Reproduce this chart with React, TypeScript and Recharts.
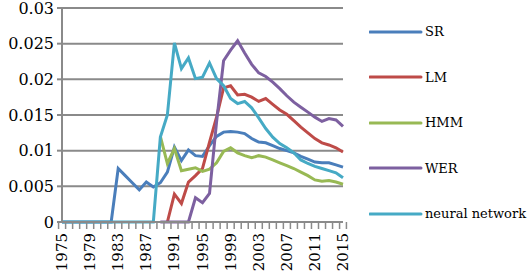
import { CartesianGrid, Legend, Line, LineChart, XAxis, YAxis } from "recharts";

const YEARS = Array.from({ length: 41 }, (_, i) => 1975 + i);

// values per year, null = no data for that year
const SR = [
  0, 0, 0, 0, 0, 0, 0, 0, 0.0075, 0.0065, 0.0055, 0.0045, 0.0056, 0.0049, 0.0055, 0.007,
  0.0105, 0.0086, 0.0101, 0.0093, 0.0092, 0.0107, 0.012, 0.0126, 0.0127, 0.0126, 0.0124,
  0.0117, 0.0112, 0.0111, 0.0107, 0.0103, 0.01, 0.0097, 0.0092, 0.0088, 0.0084, 0.0083,
  0.0083, 0.008, 0.0077,
];
const LM = [
  null, null, null, null, null, null, null, null, null, null, null, null, null, null, null, 0,
  0.0039, 0.0026, 0.0056, 0.0065, 0.0075, 0.0112, 0.0147, 0.0188, 0.0191, 0.0178, 0.0179,
  0.0175, 0.0169, 0.0173, 0.0165, 0.0157, 0.0151, 0.0142, 0.0133, 0.0125, 0.0117, 0.0111,
  0.0108, 0.0104, 0.0098,
];
const HMM = [
  null, null, null, null, null, null, null, null, null, null, null, null, null, null, 0.012,
  0.0082, 0.0103, 0.0072, 0.0074, 0.0076, 0.0071, 0.0074, 0.0083, 0.0099, 0.0104, 0.0097,
  0.0093, 0.009, 0.0093, 0.0091, 0.0087, 0.0083, 0.0079, 0.0075, 0.007, 0.0065, 0.0059,
  0.0057, 0.0058, 0.0056, 0.0053,
];
const WER = [
  null, null, null, null, null, null, null, null, null, null, null, null, null, null, 0, 0, 0,
  0, 0, 0.0034, 0.0027, 0.004, 0.014, 0.0226, 0.0241, 0.0254, 0.0237, 0.0221, 0.0209, 0.0204,
  0.0196, 0.0187, 0.0177, 0.0168, 0.0161, 0.0154, 0.0147, 0.0141, 0.0145, 0.0143, 0.0134,
];
const NEURAL = [
  0, 0, 0, 0, 0, 0, 0, 0, 0, 0, 0, 0, 0, 0, 0.0119, 0.015, 0.0251, 0.0215, 0.023, 0.0201,
  0.0203, 0.0223, 0.0201, 0.0191, 0.0173, 0.0166, 0.0169, 0.016, 0.0146, 0.0131, 0.0119,
  0.011, 0.0104, 0.0097, 0.0087, 0.0082, 0.0078, 0.0075, 0.0072, 0.0069, 0.0062,
];

const Y_TICKS = [0, 0.005, 0.01, 0.015, 0.02, 0.025, 0.03];

const SERIES = [
  { key: "SR", values: SR, color: "#4A7EBB" },
  { key: "LM", values: LM, color: "#BE4B48" },
  { key: "HMM", values: HMM, color: "#98B954" },
  { key: "WER", values: WER, color: "#7D60A0" },
  { key: "neural network", values: NEURAL, color: "#46AAC5" },
];

const FONT = "'DejaVu Serif', serif";
const GRID = "#8a8a8a";
const PLOT_LEFT = 62;
const PLOT_RIGHT = 343;
const BAND = (PLOT_RIGHT - PLOT_LEFT) / YEARS.length;

const data = YEARS.map((year, i) => {
  const row: Record<string, number | string | null> = { year: String(year) };
  for (const s of SERIES) row[s.key] = s.values[i];
  return row;
});

function YearTick(props: any) {
  const { x, y, payload, index } = props;
  const year = Number(payload.value);
  const isLast = index === YEARS.length - 1;
  return (
    <g transform={`translate(${x},${y})`}>
      <line x1={-BAND / 2} x2={-BAND / 2} y1={0} y2={7} stroke={GRID} strokeWidth={1.5} />
      {isLast && <line x1={BAND / 2} x2={BAND / 2} y1={0} y2={7} stroke={GRID} strokeWidth={1.5} />}
      {(year - 1975) % 4 === 0 && (
        <text
          transform="rotate(-90)"
          x={-11}
          y={0}
          textAnchor="end"
          dominantBaseline="central"
          fontSize={15}
          fontFamily={FONT}
          fill="#000"
        >
          {payload.value}
        </text>
      )}
    </g>
  );
}

// legend in series order (recharts would sort the payload by name)
function LegendBox() {
  return (
    <div style={{ fontFamily: FONT, fontSize: 13, color: "#000" }}>
      {SERIES.map((s) => (
        <div key={s.key} style={{ height: 45.5, display: "flex", alignItems: "center" }}>
          <svg width={56} height={6}>
            <line x1={1} x2={52} y1={3} y2={3} stroke={s.color} strokeWidth={3} strokeLinecap="round" />
          </svg>
          <span>{s.key}</span>
        </div>
      ))}
    </div>
  );
}

export default function App() {
  return (
    <div style={{ position: "absolute", left: 0, top: 0, width: 529, height: 276, background: "#fff" }}>
      <LineChart width={529} height={276} data={data} margin={{ top: 8, right: 529 - PLOT_RIGHT, bottom: 0, left: 0 }}>
        <CartesianGrid vertical={false} stroke={GRID} strokeWidth={2} />
        <XAxis
          dataKey="year"
          interval={0}
          height={54}
          tickSize={0}
          tickMargin={0}
          tickLine={false}
          axisLine={{ stroke: GRID, strokeWidth: 2 }}
          tick={<YearTick />}
        />
        <YAxis
          width={PLOT_LEFT}
          domain={[0, 0.03]}
          ticks={Y_TICKS}
          interval={0}
          tickSize={5}
          tickMargin={3}
          tickLine={{ stroke: GRID, strokeWidth: 2 }}
          axisLine={{ stroke: GRID, strokeWidth: 2 }}
          tick={{ fontSize: 16, fontFamily: FONT, fill: "#000" }}
        />
        <Legend
          layout="horizontal"
          verticalAlign="middle"
          align="center"
          content={<LegendBox />}
          wrapperStyle={{ left: 369, top: 9, width: 160 }}
        />
        {SERIES.map((s) => (
          <Line
            key={s.key}
            type="linear"
            dataKey={s.key}
            name={s.key}
            stroke={s.color}
            strokeWidth={3}
            dot={false}
            activeDot={false}
            isAnimationActive={false}
          />
        ))}
      </LineChart>
    </div>
  );
}
